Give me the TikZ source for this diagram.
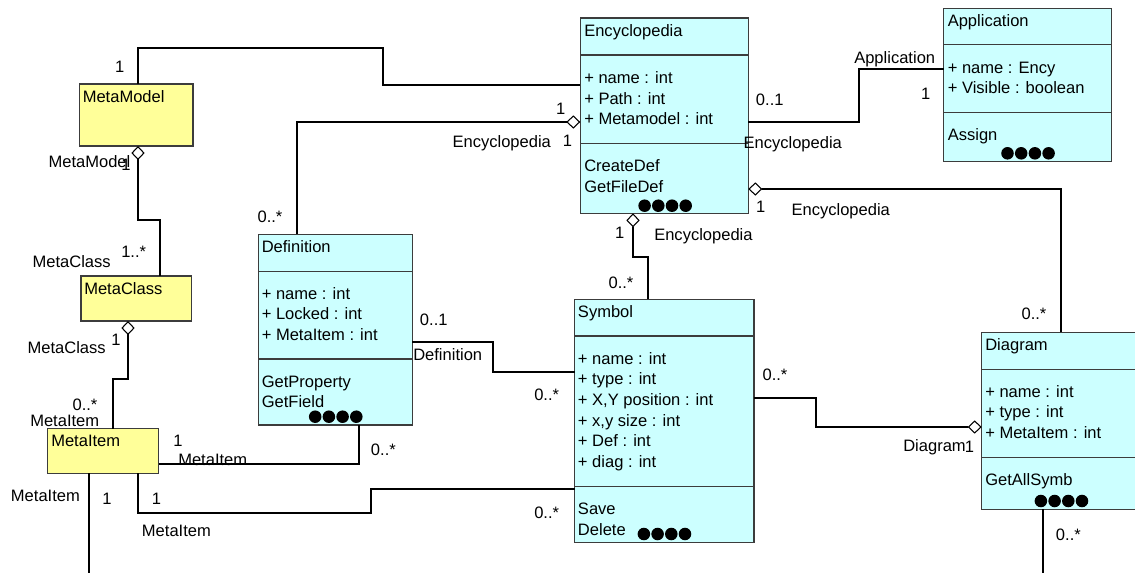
\documentclass[tikz,border=0pt]{standalone}
\usepackage{fontspec}
\setmainfont{Liberation Sans}
\usetikzlibrary{arrows.meta,fit}
\definecolor{clsfill}{RGB}{204,255,255}
\definecolor{metafill}{RGB}{255,255,153}
\definecolor{clsline}{RGB}{60,60,60}
\newcommand{\umlfont}{\fontsize{12.4}{15.45}\selectfont}
\newcommand{\fourdots}[2]{\foreach \k in {0,...,3}{\fill (#1+13.7*\k,#2) circle[radius=4.7pt];}}

\tikzset{
  cls/.style={draw=clsline, fill=clsfill, line width=1pt, inner sep=0pt, outer sep=0pt},
  meta/.style={cls, fill=metafill},
  divline/.style={draw=clsline, line width=1pt},
  txt/.style={anchor=north west, inner sep=0pt, align=left, font=\umlfont},
  lbl/.style={anchor=base west, inner sep=0pt, font=\umlfont},
  conn/.style={line width=0.8pt},
  agg/.style={conn, -{Diamond[fill=white, length=10.5pt, width=10pt]}},
}

\begin{document}
\begin{tikzpicture}[x=0.75pt, y=-0.75pt]
\useasboundingbox (0,0) rectangle (1135,572);

% meta classes
\node[meta, fit={(79.3,84) (193,146)}] (mmodel) {};
\node[txt] (mmodel-t) at (82.5,88.1) {\strut MetaModel};
\node[meta, fit={(81,276) (191.7,321)}] (mclass) {};
\node[txt] (mclass-t) at (84,279.6) {\strut MetaClass};
\node[meta, fit={(47.7,428.7) (158.7,473.3)}] (mitem) {};
\node[txt] (mitem-t) at (51,432.3) {\strut MetaItem};

% Encyclopedia
\node[cls, fit={(580.3,18) (748.3,213.3)}] (ency) {};
\draw[divline] (ency.west |- 0,55) -- (ency.east |- 0,55);
\draw[divline] (ency.west |- 0,143.3) -- (ency.east |- 0,143.3);
\node[txt] (ency-t) at (584,21.6) {\strut Encyclopedia};
\node[txt] (ency-a) at (584,68.9) {\strut + name : int\\+ Path : int\\+ Metamodel : int};
\node[txt] (ency-m) at (584,157.3) {\strut CreateDef\\GetFileDef};
\fourdots{644.6}{205.7}

% Application
\node[cls, fit={(943.7,8.3) (1111.3,161.7)}] (app) {};
\draw[divline] (app.west |- 0,44.7) -- (app.east |- 0,44.7);
\draw[divline] (app.west |- 0,112.3) -- (app.east |- 0,112.3);
\node[txt] (app-t) at (947.5,11.6) {\strut Application};
\node[txt] (app-a) at (947.5,58.6) {\strut + name : Ency\\+ Visible : boolean};
\node[txt] (app-m) at (947.5,125.6) {\strut Assign};
\fourdots{1007.5}{153.3}

% Definition
\node[cls, fit={(258.3,234.3) (412.3,425)}] (defn) {};
\draw[divline] (defn.west |- 0,271.3) -- (defn.east |- 0,271.3);
\draw[divline] (defn.west |- 0,359) -- (defn.east |- 0,359);
\node[txt] (defn-t) at (261.5,238.1) {\strut Definition};
\node[txt] (defn-a) at (261.5,284.6) {\strut + name : int\\+ Locked : int\\+ MetaItem : int};
\node[txt] (defn-m) at (261.5,372.6) {\strut GetProperty\\GetField};
\fourdots{315.2}{416.7}

% Symbol
\node[cls, fit={(574.7,299.3) (754,542.3)}] (symb) {};
\draw[divline] (symb.west |- 0,336) -- (symb.east |- 0,336);
\draw[divline] (symb.west |- 0,486.7) -- (symb.east |- 0,486.7);
\node[txt] (symb-t) at (577.7,303.3) {\strut Symbol};
\node[txt] (symb-a) at (577.7,349.6) {\strut + name : int\\+ type : int\\+ X,Y position : int\\+ x,y size : int\\+ Def : int\\+ diag : int};
\node[txt] (symb-m) at (577.7,499.9) {\strut Save\\Delete};
\fourdots{643.9}{534}

% Diagram
\node[cls, fit={(981.7,332.3) (1140,509.3)}] (diag) {};
\draw[divline] (diag.west |- 0,369.3) -- (diag.east |- 0,369.3);
\draw[divline] (diag.west |- 0,457.3) -- (diag.east |- 0,457.3);
\node[txt] (diag-t) at (985,336.1) {\strut Diagram};
\node[txt] (diag-a) at (985,382.6) {\strut + name : int\\+ type : int\\+ MetaItem : int};
\node[txt] (diag-m) at (985,471.1) {\strut GetAllSymb};
\fourdots{1040.9}{501}

% connectors
\coordinate (mi-out) at (89,573);
\coordinate (dg-out) at (1043,573);
\draw[conn] (mmodel.north -| 138,0) |- (383,48) |- (ency.west |- 0,85);
\draw[agg] (defn.north -| 297,0) |- (ency.west |- 0,122);
\draw[agg] (mclass.north -| 160,0) |- (138,220) -- (mmodel.south -| 138,0);
\draw[agg] (mitem.north -| 113,0) |- (128,379) -- (mclass.south -| 128,0);
\draw[conn] (mitem.east |- 0,464) -| (defn.south -| 359,0);
\draw[conn] (mitem.south -| 138,0) |- (371,513) |- (symb.west |- 0,489);
\draw[conn] (mitem.south -| 89,0) -- (mi-out);
\draw[conn] (defn.east |- 0,342) -| (493,372) -- (symb.west |- 0,372);
\draw[agg] (symb.north -| 648,0) |- (633,257) -- (ency.south -| 633,0);
\draw[conn] (ency.east |- 0,122) -| (859,69) -- (app.west |- 0,69);
\draw[agg] (diag.north -| 1061,0) |- (ency.east |- 0,189);
\draw[agg] (symb.east |- 0,398) -| (816,427) -- (diag.west |- 0,427);
\draw[conn] (diag.south -| 1043,0) -- (dg-out);

% roles and multiplicities
\node[lbl] (l1) at (114.9,72.3) {1};
\node[lbl] (l2) at (48.3,167.3) {MetaModel};
\node[lbl] (l3) at (121,170) {1};
\node[lbl] (l4) at (257.3,222.7) {0..*};
\node[lbl] (l5) at (121,257.7) {1..*};
\node[lbl] (l6) at (32.3,267.3) {MetaClass};
\node[lbl] (l7) at (27.3,353.3) {MetaClass};
\node[lbl] (l8) at (111,345.3) {1};
\node[lbl] (l9) at (72.3,410) {0..*};
\node[lbl] (l10) at (30,426.7) {MetaItem};
\node[lbl] (l11) at (173.2,446.7) {1};
\node[lbl] (l12) at (178,465) {MetaItem};
\node[lbl] (l13) at (370.7,455.3) {0..*};
\node[lbl] (l14) at (10.7,501.3) {MetaItem};
\node[lbl] (l15) at (102.2,504) {1};
\node[lbl] (l16) at (151.5,504) {1};
\node[lbl] (l17) at (141.7,536) {MetaItem};
\node[lbl] (l18) at (555.9,114.3) {1};
\node[lbl] (l19) at (452.3,147.7) {Encyclopedia};
\node[lbl] (l20) at (562.5,146.7) {1};
\node[lbl] (l21) at (755.7,105.3) {0..1};
\node[lbl] (l22) at (743.3,148) {Encyclopedia};
\node[lbl] (l23) at (755.9,212.7) {1};
\node[lbl] (l24) at (614.9,238.3) {1};
\node[lbl] (l25) at (654,240) {Encyclopedia};
\node[lbl] (l26) at (608.3,288.3) {0..*};
\node[lbl] (l27) at (854,63.3) {Application};
\node[lbl] (l28) at (920.9,99) {1};
\node[lbl] (l29) at (791.3,215) {Encyclopedia};
\node[lbl] (l30) at (419.7,325) {0..1};
\node[lbl] (l31) at (413,360) {Definition};
\node[lbl] (l32) at (534,400.7) {0..*};
\node[lbl] (l33) at (534,518) {0..*};
\node[lbl] (l34) at (762.3,380.7) {0..*};
\node[lbl] (l35) at (1021.3,319.3) {0..*};
\node[lbl] (l36) at (903,451.7) {Diagram};
\node[lbl] (l37) at (964.5,452) {1};
\node[lbl] (l38) at (1055.7,540.7) {0..*};
\end{tikzpicture}
\end{document}
